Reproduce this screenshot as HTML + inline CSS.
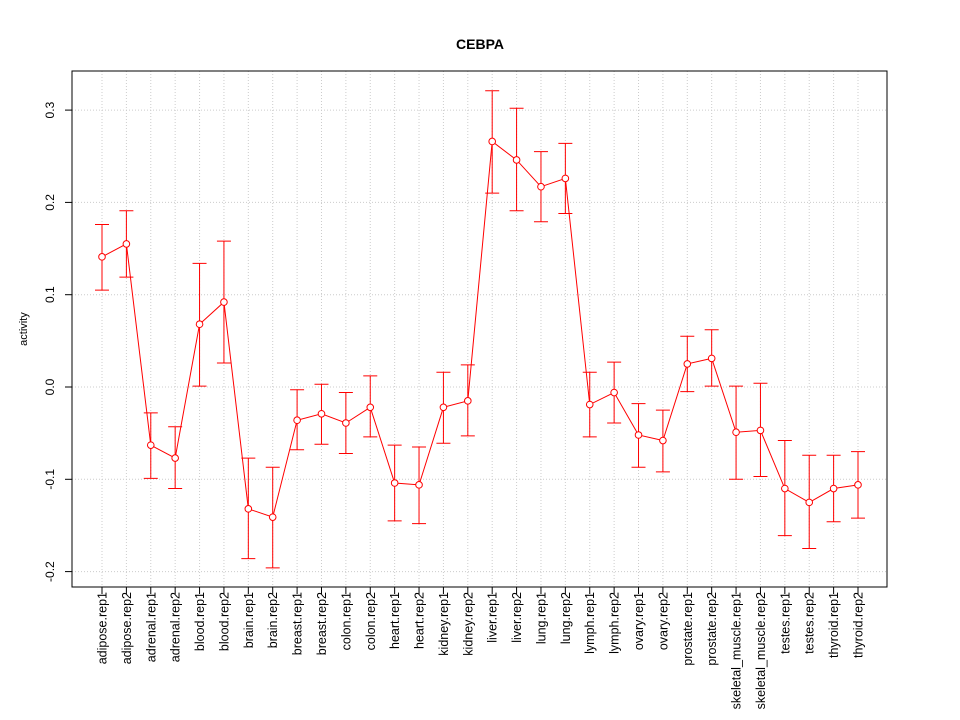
<!DOCTYPE html>
<html><head><meta charset="utf-8"><style>
body{margin:0;background:#fff}
svg{display:block;font-family:"Liberation Sans",sans-serif}
</style></head><body>
<svg id="chart" width="960" height="720" xmlns="http://www.w3.org/2000/svg">
<rect width="960" height="720" fill="#fff"/>
<text x="480" y="49" text-anchor="middle" font-size="14" font-weight="bold">CEBPA</text>
<text transform="translate(27,329) rotate(-90)" text-anchor="middle" font-size="11">activity</text>
<g id="grid"></g>
<g id="axes"></g>
<g id="marks"></g>
<rect x="72" y="71" width="815" height="516" fill="none" stroke="#000"/>
</svg>
<script>
const categories=["adipose.rep1","adipose.rep2","adrenal.rep1","adrenal.rep2","blood.rep1","blood.rep2","brain.rep1","brain.rep2","breast.rep1","breast.rep2","colon.rep1","colon.rep2","heart.rep1","heart.rep2","kidney.rep1","kidney.rep2","liver.rep1","liver.rep2","lung.rep1","lung.rep2","lymph.rep1","lymph.rep2","ovary.rep1","ovary.rep2","prostate.rep1","prostate.rep2","skeletal_muscle.rep1","skeletal_muscle.rep2","testes.rep1","testes.rep2","thyroid.rep1","thyroid.rep2"];
const values=[0.141,0.155,-0.063,-0.077,0.068,0.092,-0.132,-0.141,-0.036,-0.029,-0.039,-0.022,-0.104,-0.106,-0.022,-0.015,0.266,0.246,0.217,0.226,-0.019,-0.006,-0.052,-0.058,0.025,0.031,-0.049,-0.047,-0.110,-0.125,-0.110,-0.106];
const upper=[0.176,0.191,-0.028,-0.043,0.134,0.158,-0.077,-0.087,-0.003,0.003,-0.006,0.012,-0.063,-0.065,0.016,0.024,0.321,0.302,0.255,0.264,0.016,0.027,-0.018,-0.025,0.055,0.062,0.001,0.004,-0.058,-0.074,-0.074,-0.070];
const lower=[0.105,0.119,-0.099,-0.110,0.001,0.026,-0.186,-0.196,-0.068,-0.062,-0.072,-0.054,-0.145,-0.148,-0.061,-0.053,0.210,0.191,0.179,0.188,-0.054,-0.039,-0.087,-0.092,-0.005,0.001,-0.100,-0.097,-0.161,-0.175,-0.146,-0.142];
const yTicks=[-0.2,-0.1,0.0,0.1,0.2,0.3];
const yTickLabels=["-0.2","-0.1","0.0","0.1","0.2","0.3"];

const NS="http://www.w3.org/2000/svg";
const x=i=>102+i*(858-102)/(categories.length-1);
const y=v=>387-v*923;
function mk(parent,tag,attrs){const e=document.createElementNS(NS,tag);for(const k in attrs)e.setAttribute(k,attrs[k]);parent.appendChild(e);return e;}
const grid=document.getElementById('grid'),axes=document.getElementById('axes'),marks=document.getElementById('marks');
categories.forEach((c,i)=>{
  const g=mk(grid,'line',{x1:x(i),x2:x(i),y1:71,y2:587,stroke:'#ccc','stroke-dasharray':'1,2'});
  
  
  const t=mk(axes,'line',{x1:x(i),x2:x(i),y1:587,y2:594,stroke:'#000'});
  
  
  const l=mk(axes,'text',{transform:`translate(${x(i)+4.5},${592}) rotate(-90)`,'text-anchor':'end','font-size':'12.5'});
  l.textContent=c;
  
  
});
yTicks.forEach((v,i)=>{
  const g=mk(grid,'line',{x1:72,x2:887,y1:y(v),y2:y(v),stroke:'#ccc','stroke-dasharray':'1,2'});
  
  
  const t=mk(axes,'line',{x1:65,x2:72,y1:y(v),y2:y(v),stroke:'#000'});
  
  
  const l=mk(axes,'text',{transform:`translate(54,${y(v)}) rotate(-90)`,'text-anchor':'middle','font-size':'12'});
  l.textContent=yTickLabels[i];
  
  
});
const line=mk(marks,'polyline',{points:values.map((v,i)=>x(i)+','+y(v)).join(' '),fill:'none',stroke:'#f00'});


values.forEach((v,i)=>{
  const xi=x(i);
  const e=mk(marks,'path',{d:`M${xi},${y(upper[i])}V${y(lower[i])}M${xi-7},${y(upper[i])}H${xi+7}M${xi-7},${y(lower[i])}H${xi+7}`,stroke:'#f00',fill:'none'});
  
  
  const p=mk(marks,'circle',{cx:xi,cy:y(v),r:3.3,fill:'#fff',stroke:'#f00'});
  
  
});
</script>
</body></html>
